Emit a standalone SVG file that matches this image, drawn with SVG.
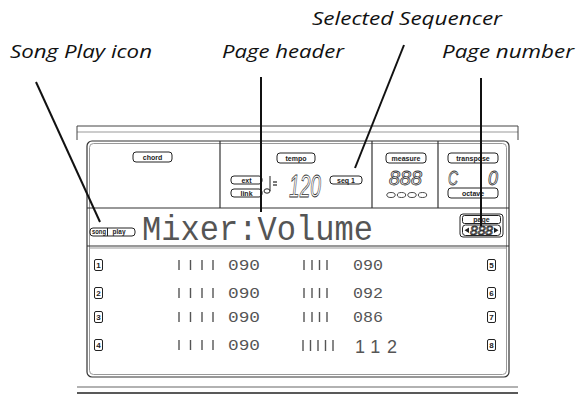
<svg xmlns="http://www.w3.org/2000/svg" width="579" height="394" viewBox="0 0 579 394">
<style>
.lbl{font-family:"Open Sans","Liberation Sans",sans-serif;font-style:italic;font-size:18px;fill:#111}
.lead{stroke:#111;stroke-width:2;fill:none}
.frm{stroke:#333;stroke-width:1.2;fill:none}
.frm2{stroke:#999;stroke-width:1;fill:none}
.pill{fill:#fff;stroke:#222;stroke-width:1}
.pt{font-family:"Liberation Sans",sans-serif;font-weight:bold;font-size:7px;fill:#222;text-anchor:middle}
.lcd{font-family:"Liberation Sans",sans-serif;font-style:italic;fill:none;stroke:#333;stroke-width:0.8}
.mono{font-family:"Liberation Mono",monospace;fill:#555}
.bar{stroke:#555;stroke-width:1.4}
.nb{fill:#fff;stroke:#222;stroke-width:1}
.nt{font-family:"Liberation Sans",sans-serif;font-weight:bold;font-size:8px;fill:#222;text-anchor:middle}
</style>

<g id="casing">
<line x1="77" y1="126" x2="518" y2="126" stroke="#444" stroke-width="1"/>
<line x1="77" y1="132" x2="518" y2="132" stroke="#999" stroke-width="1"/>
<line x1="77" y1="126" x2="77" y2="140" stroke="#444" stroke-width="1"/>
<line x1="518" y1="126" x2="518" y2="140" stroke="#444" stroke-width="1"/>
<line x1="77" y1="387" x2="518" y2="387" stroke="#999" stroke-width="1.5"/>
<line x1="77" y1="393" x2="518" y2="393" stroke="#222" stroke-width="1.5"/>
</g>

<g id="frame">
<rect class="frm" x="87" y="141" width="422" height="236" rx="5"/>
<rect class="frm2" x="89.5" y="143.5" width="417" height="231" rx="4"/>
<line class="frm" x1="87" y1="208" x2="509" y2="208"/>
<line class="frm" x1="87" y1="246" x2="509" y2="246"/>
<line class="frm2" x1="89" y1="248" x2="507" y2="248"/>
<line class="frm" x1="220" y1="141" x2="220" y2="208"/>
<line class="frm" x1="372" y1="141" x2="372" y2="208"/>
<line class="frm" x1="438" y1="141" x2="438" y2="208"/>
</g>

<g id="chord">
<rect class="pill" x="133" y="152" width="39" height="10" rx="3"/>
<text class="pt" x="152.5" y="159.5">chord</text>
</g>

<g id="tempo">
<rect class="pill" x="277" y="153" width="38" height="10" rx="3"/>
<text class="pt" x="296" y="160.5">tempo</text>
<rect class="pill" x="231" y="176" width="31" height="8" rx="3"/>
<text class="pt" x="246.5" y="182.5">ext</text>
<rect class="pill" x="231" y="189" width="31" height="8" rx="3"/>
<text class="pt" x="246.5" y="195.5">link</text>
<ellipse cx="267" cy="191" rx="3" ry="2.2" fill="none" stroke="#222" stroke-width="1"/>
<line x1="270" y1="191" x2="270" y2="176" stroke="#222" stroke-width="1"/>
<line x1="273" y1="182" x2="277" y2="182" stroke="#222" stroke-width="1.2"/>
<line x1="273" y1="185" x2="277" y2="185" stroke="#222" stroke-width="1.2"/>
<text class="lcd" transform="translate(289,197) scale(0.6,1)" x="0" y="0" font-size="32">120</text>
<rect class="pill" x="330" y="176" width="32" height="8" rx="3"/>
<text class="pt" x="346" y="182.5" font-size="6.5">seq 1</text>
</g>

<g id="measure">
<rect class="pill" x="386" y="153" width="40" height="10" rx="3"/>
<text class="pt" x="406" y="160.5">measure</text>
<text class="lcd" transform="translate(389,185) scale(1,1)" x="0" y="0" font-size="20" textLength="33" lengthAdjust="spacingAndGlyphs">888</text>
<g fill="none" stroke="#333" stroke-width="0.9">
<ellipse cx="391" cy="195" rx="4.2" ry="2.5"/>
<ellipse cx="401.5" cy="195" rx="4.2" ry="2.5"/>
<ellipse cx="412" cy="195" rx="4.2" ry="2.5"/>
<ellipse cx="422.5" cy="195" rx="4.2" ry="2.5"/>
</g>
</g>

<g id="transpose">
<rect class="pill" x="448" y="153" width="50" height="10" rx="3"/>
<text class="pt" x="473" y="160.5">transpose</text>
<text class="lcd" x="448" y="185" font-size="20" textLength="10" lengthAdjust="spacingAndGlyphs">C</text>
<text class="lcd" x="488" y="185" font-size="20" textLength="10" lengthAdjust="spacingAndGlyphs">0</text>
<rect class="pill" x="448" y="188" width="50" height="10" rx="3"/>
<text class="pt" x="473" y="195.5">octave</text>
</g>

<g id="header">
<rect class="pill" x="90" y="228" width="45" height="8" rx="3"/>
<line x1="107.5" y1="228" x2="107.5" y2="236" stroke="#222" stroke-width="1"/>
<text class="pt" x="99" y="234" font-size="5.5" textLength="14" lengthAdjust="spacingAndGlyphs">song</text>
<text class="pt" x="119" y="234" font-size="5.5" textLength="13" lengthAdjust="spacingAndGlyphs">play</text>
<text class="mono" x="142" y="240" font-size="35" textLength="231" lengthAdjust="spacingAndGlyphs">Mixer:Volume</text>
</g>

<g id="page">
<rect class="pill" x="460" y="214" width="43" height="23" rx="3"/>
<rect class="pill" x="462.5" y="215.5" width="38" height="8" rx="2"/>
<text class="pt" x="481.5" y="221.8" font-size="6">page</text>
<rect class="pill" x="462.5" y="225" width="38" height="10.5" rx="3"/>
<polygon points="464.5,230.2 469,227.5 469,233" fill="#222"/>
<polygon points="498.5,230.2 494,227.5 494,233" fill="#222"/>
<text class="lcd" x="470" y="234.5" font-size="12" textLength="23" lengthAdjust="spacingAndGlyphs">888</text>
</g>

<g id="ch1">
<rect class="nb" x="94.5" y="259.5" width="8" height="11" rx="1.5"/><text class="nt" x="98.5" y="268">1</text>
<path class="bar" d="M179 260v10M190.5 260v10M202 260v10M213 260v10"/>
<text class="mono" x="228" y="270" font-size="15" textLength="32" lengthAdjust="spacingAndGlyphs">090</text>
</g>
<g id="ch2">
<rect class="nb" x="94.5" y="287.5" width="8" height="11" rx="1.5"/><text class="nt" x="98.5" y="296">2</text>
<path class="bar" d="M179 288v10M190.5 288v10M202 288v10M213 288v10"/>
<text class="mono" x="228" y="298" font-size="15" textLength="32" lengthAdjust="spacingAndGlyphs">090</text>
</g>
<g id="ch3">
<rect class="nb" x="94.5" y="311.5" width="8" height="11" rx="1.5"/><text class="nt" x="98.5" y="320">3</text>
<path class="bar" d="M179 312v10M190.5 312v10M202 312v10M213 312v10"/>
<text class="mono" x="228" y="322" font-size="15" textLength="32" lengthAdjust="spacingAndGlyphs">090</text>
</g>
<g id="ch4">
<rect class="nb" x="94.5" y="339.5" width="8" height="11" rx="1.5"/><text class="nt" x="98.5" y="348">4</text>
<path class="bar" d="M179 340v10M190.5 340v10M202 340v10M213 340v10"/>
<text class="mono" x="228" y="350" font-size="15" textLength="32" lengthAdjust="spacingAndGlyphs">090</text>
</g>
<g id="ch5">
<rect class="nb" x="487.5" y="259.5" width="8" height="11" rx="1.5"/><text class="nt" x="491.5" y="268">5</text>
<path class="bar" d="M304 260v10M312 260v10M319.5 260v10M327 260v10"/>
<text class="mono" x="353" y="270" font-size="15" textLength="30" lengthAdjust="spacingAndGlyphs">090</text>
</g>
<g id="ch6">
<rect class="nb" x="487.5" y="287.5" width="8" height="11" rx="1.5"/><text class="nt" x="491.5" y="296">6</text>
<path class="bar" d="M304 288v10M312 288v10M319.5 288v10M327 288v10"/>
<text class="mono" x="353" y="298" font-size="15" textLength="30" lengthAdjust="spacingAndGlyphs">092</text>
</g>
<g id="ch7">
<rect class="nb" x="487.5" y="311.5" width="8" height="11" rx="1.5"/><text class="nt" x="491.5" y="320">7</text>
<path class="bar" d="M304 312v10M312 312v10M319.5 312v10M327 312v10"/>
<text class="mono" x="353" y="322" font-size="15" textLength="30" lengthAdjust="spacingAndGlyphs">086</text>
</g>
<g id="ch8">
<rect class="nb" x="487.5" y="339.5" width="8" height="11" rx="1.5"/><text class="nt" x="491.5" y="348">8</text>
<path class="bar" d="M303 340v11M310.5 340v11M318 340v11M325.5 340v11M333 340v11"/>
<text x="355" y="353" font-family="Liberation Sans,sans-serif" font-size="18" fill="#555" textLength="42" lengthAdjust="spacing">112</text>
</g>

<g id="labels">
<text class="lbl" x="10" y="58" textLength="142" lengthAdjust="spacingAndGlyphs">Song Play icon</text>
<text class="lbl" x="222" y="58" textLength="122" lengthAdjust="spacingAndGlyphs">Page header</text>
<text class="lbl" x="312" y="25" textLength="190" lengthAdjust="spacingAndGlyphs">Selected Sequencer</text>
<text class="lbl" x="442" y="58" textLength="132" lengthAdjust="spacingAndGlyphs">Page number</text>
</g>

<g id="connectors">
<line class="lead" x1="36" y1="82" x2="100" y2="222"/>
<line class="lead" x1="261" y1="77" x2="261" y2="212"/>
<line class="lead" x1="404" y1="45" x2="355" y2="168"/>
<line class="lead" x1="481" y1="78" x2="481" y2="226"/>
</g>
</svg>
